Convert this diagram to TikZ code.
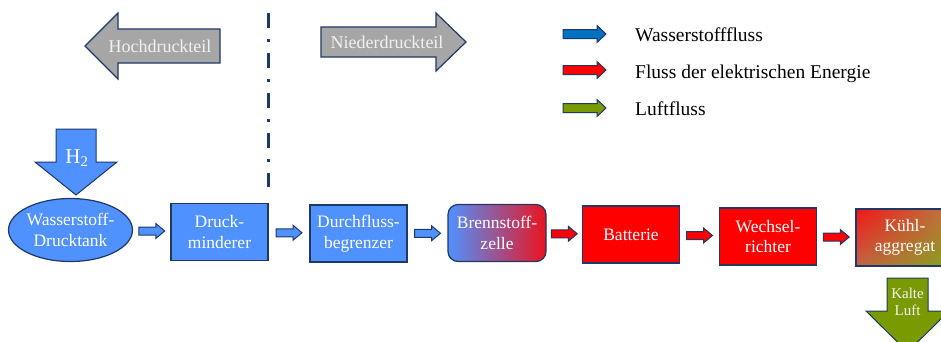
\documentclass[tikz,border=0pt]{standalone}
\usepackage{fontspec}
\setmainfont{Liberation Serif}
\usetikzlibrary{positioning,calc,shapes.geometric,shadings}

\definecolor{navy}{HTML}{1F3864}
\definecolor{hblue}{HTML}{4F91FF}
\definecolor{legblue}{HTML}{0070C0}
\definecolor{airgreen}{HTML}{7A9A01}
\definecolor{partgray}{HTML}{A6A6A6}
\definecolor{partwhite}{HTML}{F2F2F2}
\definecolor{cellmid}{RGB}{160,90,150}
\definecolor{cellred}{RGB}{235,20,30}
\definecolor{coolul}{RGB}{242,22,22}
\definecolor{coolur}{RGB}{185,125,70}
\definecolor{coolll}{RGB}{195,100,70}
\definecolor{coollr}{RGB}{130,165,25}

\newcommand\boxfont{\fontsize{17.5}{20.5}\selectfont}
\newcommand\legfont{\fontsize{19.5}{23}\selectfont}

% block arrow: fill, start, shaft length, shaft half width, head half width
\newcommand\blockarrow[5]{%
  \filldraw[arrowline, fill=#1] #2 ++(0,#4) -- ++(#3,0) -- ++(0,#5-#4) -- ++(9,-#5)
    -- ++(-9,-#5) -- ++(0,#5-#4) -- ++(-#3,0) -- cycle;}

\begin{document}
\begin{tikzpicture}
		[x=1pt, y=-1pt,
		 box/.style={draw=navy, line width=1.2pt, text=white, align=center, inner sep=0pt,
		   minimum width=97pt, minimum height=57pt, font=\boxfont},
		 part/.style={draw=navy, line width=1.2pt, fill=partgray},
		 partlabel/.style={text=partwhite, inner sep=0pt, font=\fontsize{18}{21}\selectfont},
		 arrowline/.style={draw=navy, line width=1pt},
		 legend/.style={anchor=base west, inner sep=0pt, font=\legfont}]
		\useasboundingbox (0,0) rectangle (941,341);
		\clip (0,0) rectangle (941,341);

		% draw the border between high and low pressure
		\draw [navy, line width=3pt, dash pattern=on 15pt off 11pt on 3pt off 11pt] (268,13) -- (268,187);

		% draw the two grey arrows
		\draw [part] (220,29) -- (118,29) -- (118,13) -- (85,46) -- (118,79) -- (118,63) -- (220,63) -- cycle;
		\node [partlabel] (hoch) at (160,46) {Hochdruckteil};
		\draw [part] (321,27) -- (436,27) -- (436,13) -- (466,42) -- (436,71) -- (436,57) -- (321,57) -- cycle;
		\node [partlabel] (nieder) at (387,42) {Niederdruckteil};

		% legend
		\node [legend] (lwas) at (635,41) {Wasserstofffluss};
		\node [legend] (lel) at (635,78) {Fluss der elektrischen Energie};
		\node [legend] (lluft) at (635,115) {Luftfluss};
		\blockarrow{legblue}{($(lwas.base west)+(-72,-7)$)}{34}{4.5}{8.5}
		\blockarrow{red}{($(lel.base west)+(-72,-8)$)}{34}{4.5}{8.5}
		\blockarrow{airgreen}{($(lluft.base west)+(-72,-7)$)}{34}{4.5}{8.5}

		% hydrogen input
		\draw [arrowline, fill=hblue] (56,129) -- (96,129) -- (96,162) -- (117,162) -- (76,195) -- (35,162) -- (56,162) -- cycle;
		\node [text=white, anchor=base, inner sep=0pt, font=\fontsize{21}{24}\selectfont] (htwo) at (77,163.5) {H\textsubscript{2}};

		% the components
		\node [box, ellipse, fill=hblue, minimum width=123pt, minimum height=63pt] (tank) at (70.5,230) {Wasserstoff-\\Drucktank};
		\node [box, fill=hblue] (dm) at (219.5,232) {Druck-\\minderer};
		\node [box, fill=hblue] (dfb) at (358.5,233.5) {Durchfluss-\\begrenzer};
		\node [box, rounded corners=10pt, left color=hblue, middle color=cellmid, right color=cellred,
		  minimum width=98pt] (bz) at (497,233) {Brennstoff-\\zelle};
		\node [box, fill=red] (bat) at (631,234.5) {Batterie};
		\node [box, fill=red] (wr) at (768,236.5) {Wechsel-\\richter};
		\node [box, upper left=coolul, upper right=coolur, lower left=coolll, lower right=coollr,
		  minimum width=98pt] (kuehl) at (905,237.5) {Kühl-\\aggregat};

		% draw the flows
		\blockarrow{hblue}{($(tank.east)!.5!(dm.west)+(-13,0)$)}{17}{4}{7.5}
		\blockarrow{hblue}{($(dm.east)!.5!(dfb.west)+(-13,0)$)}{17}{4}{7.5}
		\blockarrow{hblue}{($(dfb.east)!.5!(bz.west)+(-13,0)$)}{17}{4}{7.5}
		\blockarrow{red}{($(bz.east)!.5!(bat.west)+(-13,0)$)}{17}{4}{7.5}
		\blockarrow{red}{($(bat.east)!.5!(wr.west)+(-13,0)$)}{17}{4}{7.5}
		\blockarrow{red}{($(wr.east)!.5!(kuehl.west)+(-13,0)$)}{17}{4}{7.5}

		% cold air output
		\draw [arrowline, fill=airgreen] (887,278) -- (928,278) -- (928,311) -- (949,311) -- (907.5,352) -- (866,311) -- (887,311) -- cycle;
		\node [text=partwhite, align=center, inner sep=0pt, font=\fontsize{15}{17.5}\selectfont] (kalt) at (907.5,302) {Kalte\\Luft};
	\end{tikzpicture}
\end{document}
